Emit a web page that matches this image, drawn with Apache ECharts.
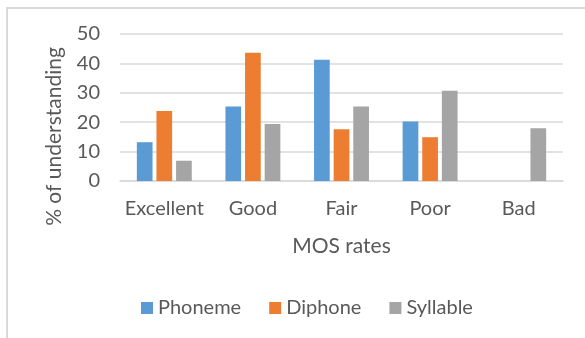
<!DOCTYPE html>
<html>
<head>
<meta charset="utf-8">
<script src="https://cdn.jsdelivr.net/npm/echarts@6/dist/echarts.min.js"></script>
<style>
html,body{margin:0;padding:0;background:#fff;}
#chart{width:585px;height:338px;}
</style>
</head>
<body>
<div id="chart"></div>
<script>
const categories = ['Excellent', 'Good', 'Fair', 'Poor', 'Bad'];
const phoneme = [13.2, 25.3, 41.2, 20.2, 0];
const diphone = [23.8, 43.6, 17.6, 14.9, 0];
const syllable = [6.9, 19.4, 25.3, 30.7, 17.9];
const yTicks = { min: 0, max: 50, interval: 10 };

const FONT = 'Lato';
const TXT = '#595959';
const chart = echarts.init(document.getElementById('chart'), null, { renderer: 'canvas' });
chart.setOption({
  animation: false,
  backgroundColor: '#fff',
  textStyle: { fontFamily: FONT },
  graphic: [{
    type: 'rect', silent: true,
    shape: { x: 7, y: 8, width: 700, height: 500 },
    style: { fill: 'none', stroke: '#d9d9d9', lineWidth: 2 }
  }],
  grid: { left: 120, right: 22, top: 34, bottom: 157 },
  legend: {
    data: ['Phoneme', 'Diphone', 'Syllable'],
    bottom: 15, left: 136,
    icon: 'rect', itemWidth: 12, itemHeight: 12, itemGap: 28,
    textStyle: { color: TXT, fontSize: 20, fontFamily: FONT }
  },
  xAxis: {
    type: 'category', data: categories,
    axisLine: { lineStyle: { color: '#d9d9d9', width: 1.5 } },
    axisTick: { show: false },
    axisLabel: { color: TXT, fontSize: 20, fontFamily: FONT, margin: 18, interval: 0 },
    name: 'MOS rates', nameLocation: 'middle', nameGap: 55,
    nameTextStyle: { color: TXT, fontSize: 21, fontFamily: FONT }
  },
  yAxis: {
    type: 'value', min: yTicks.min, max: yTicks.max, interval: yTicks.interval,
    axisLine: { show: false }, axisTick: { show: false },
    splitLine: { lineStyle: { color: '#d9d9d9', width: 1.5 } },
    axisLabel: { color: TXT, fontSize: 20, fontFamily: FONT, margin: 20 },
    name: '% of understanding', nameLocation: 'middle', nameGap: 55, nameRotate: 90,
    nameTextStyle: { color: TXT, fontSize: 21, fontFamily: FONT, padding: [0, 58, 0, 0] }
  },
  series: [
    { name: 'Phoneme', type: 'bar', data: phoneme, itemStyle: { color: '#5b9bd5' }, barGap: '25%', barCategoryGap: '38%' },
    { name: 'Diphone', type: 'bar', data: diphone, itemStyle: { color: '#ed7d31' } },
    { name: 'Syllable', type: 'bar', data: syllable, itemStyle: { color: '#a5a5a5' } }
  ]
});
</script>
</body>
</html>
